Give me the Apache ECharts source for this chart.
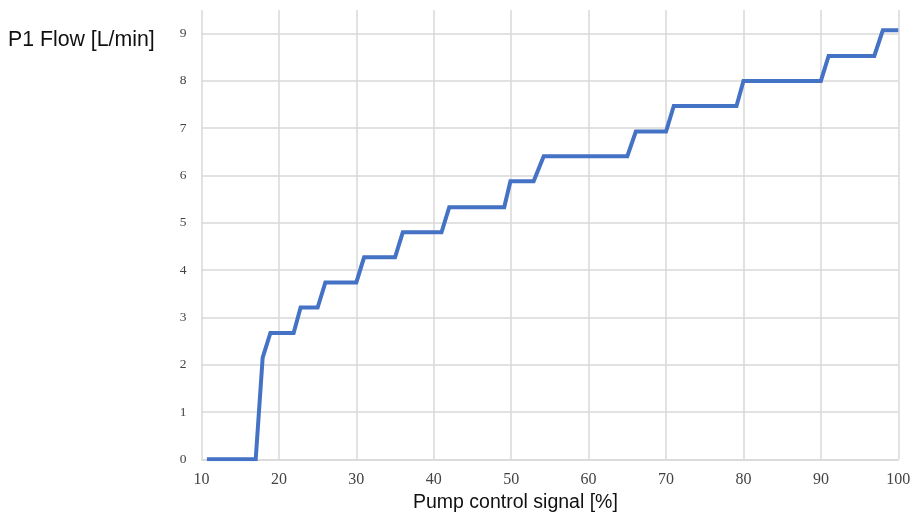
<!DOCTYPE html>
<html>
<head>
<meta charset="utf-8">
<script src="https://cdn.jsdelivr.net/npm/echarts@6/dist/echarts.min.js"></script>
<style>
html,body{margin:0;padding:0;background:#fff;}
#c{width:915px;height:514px;}
</style>
</head>
<body>
<div id="c"></div>
<script>
// Pump control signal [%] (x) and P1 flow [L/min] (y)
const signal = [10.7, 17.0, 17.9, 18.9, 21.9, 22.8, 25.0, 26.0, 30.0, 31.0, 35.0, 36.0, 41.0, 42.0, 49.1, 49.9, 52.9, 54.2, 65.0, 66.1, 70.0, 71.0, 79.1, 80.0, 90.0, 91.0, 96.9, 98.0, 100];
const flow   = [0,    0,    2.15, 2.67, 2.67, 3.21, 3.21, 3.74, 3.74, 4.27, 4.27, 4.80, 4.80, 5.33, 5.33, 5.88, 5.88, 6.41, 6.41, 6.93, 6.93, 7.47, 7.47, 8.00, 8.00, 8.53, 8.53, 9.07, 9.07];
const xTicks = [10, 20, 30, 40, 50, 60, 70, 80, 90, 100];
const yTicks = [0, 1, 2, 3, 4, 5, 6, 7, 8, 9];
const xTitle = 'Pump control signal [%]';
const yTitle = 'P1 Flow [L/min]';

const chart = echarts.init(document.getElementById('c'), null, {renderer: 'canvas'});
const gridColor = '#d9d9d9';
chart.setOption({
  animation: false,
  backgroundColor: '#ffffff',
  grid: {left: 201.5, right: 16.7, top: 10, bottom: 54.7, containLabel: false},
  xAxis: {
    type: 'value', min: xTicks[0], max: xTicks[xTicks.length - 1], interval: 10,
    axisLine: {show: true, lineStyle: {color: gridColor, width: 1.5}},
    axisTick: {show: false},
    splitLine: {show: true, lineStyle: {color: gridColor, width: 1.5}},
    axisLabel: {fontFamily: 'Liberation Serif', fontSize: 16, color: '#444', margin: 12}
  },
  yAxis: {
    type: 'value', min: 0, max: 9.5, interval: 1,
    axisLine: {show: false},
    axisTick: {show: false},
    splitLine: {show: true, showMaxLine: false, lineStyle: {color: gridColor, width: 1.5}},
    axisLabel: {
      fontFamily: 'Liberation Serif', fontSize: 13.5, color: '#444', margin: 15,
      showMaxLabel: false,
      formatter: v => (yTicks.indexOf(v) >= 0 ? String(v) : '')
    }
  },
  series: [{
    type: 'line',
    data: signal.map((s, i) => [s, flow[i]]),
    showSymbol: false,
    symbol: 'none',
    lineStyle: {color: '#4472C4', width: 4, join: 'miter'},
    itemStyle: {color: '#4472C4'}
  }],
  graphic: [
    {type: 'text', left: 413, top: 493, style: {text: xTitle, font: '19.5px "Liberation Sans"', fill: '#111'}},
    {type: 'text', left: 8, top: 30, style: {text: yTitle, font: '21.3px "Liberation Sans"', fill: '#111'}}
  ]
});
</script>
</body>
</html>
